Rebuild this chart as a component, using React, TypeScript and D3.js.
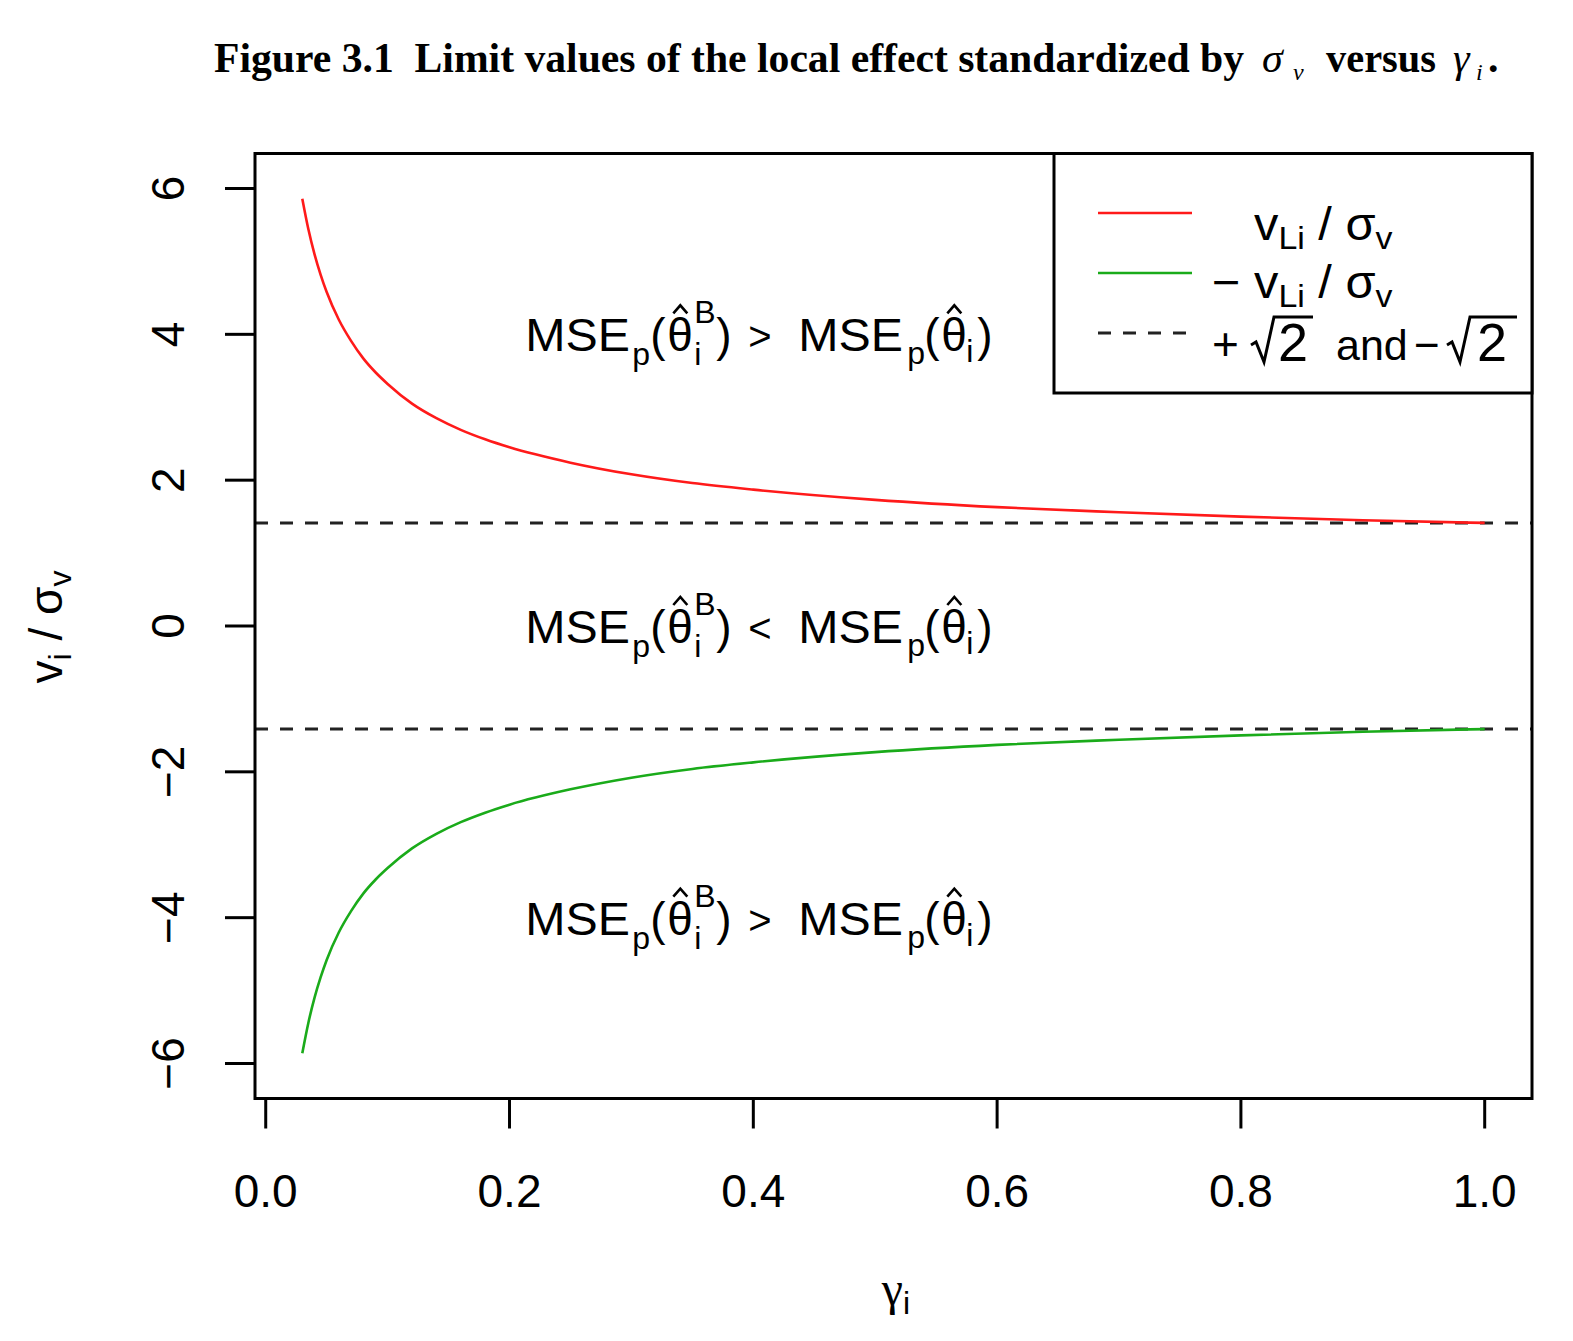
import React from "react";
import * as d3 from "d3";

const gammaValues = [0.03, 0.035, 0.04, 0.045, 0.05, 0.06, 0.07, 0.08, 0.09, 0.1, 0.12, 0.14, 0.16, 0.18, 0.2, 0.25, 0.3, 0.35, 0.4, 0.5, 0.6, 0.7, 0.8, 0.9, 1.0];
const upperValues = [5.86, 5.44, 5.10, 4.82, 4.58, 4.20, 3.91, 3.67, 3.48, 3.32, 3.05, 2.85, 2.69, 2.56, 2.45, 2.24, 2.08, 1.96, 1.87, 1.73, 1.63, 1.56, 1.50, 1.45, 1.414];
const lowerValues = [-5.86, -5.44, -5.10, -4.82, -4.58, -4.20, -3.91, -3.67, -3.48, -3.32, -3.05, -2.85, -2.69, -2.56, -2.45, -2.24, -2.08, -1.96, -1.87, -1.73, -1.63, -1.56, -1.50, -1.45, -1.414];
const thresholdValues = [1.414, -1.414];
const xTicks = [0, 0.2, 0.4, 0.6, 0.8, 1.0];
const xTickLabels = ["0.0", "0.2", "0.4", "0.6", "0.8", "1.0"];
const yTicks = [-6, -4, -2, 0, 2, 4, 6];
const yTickLabels = ["\u22126", "\u22124", "\u22122", "0", "2", "4", "6"];
const regionLabels = [
  { y: 4, rel: ">" },
  { y: 0, rel: "<" },
  { y: -4, rel: ">" },
];

const W = 1573;
const H = 1341;
const left = 255;
const right = 1532;
const top = 153.5;
const bottom = 1098.5;

const RED = "#ff1a1a";
const GREEN = "#1aab1a";
const SANS = "'Liberation Sans', Arial, Helvetica, sans-serif";
const SERIF = "'Liberation Serif', 'Times New Roman', serif";

function Piece({ x, y, s, size, sx = 1, family = SANS, extra = {} }: any) {
  return (
    <text
      transform={`translate(${x},${y}) scale(${sx},1)`}
      fontFamily={family}
      fontSize={size}
      fill="#000"
      style={{ whiteSpace: "pre" }}
      {...extra}
    >
      {s}
    </text>
  );
}

function Hat({ cx, by }: { cx: number; by: number }) {
  return (
    <polyline
      points={`${cx - 7},${by - 38} ${cx},${by - 46} ${cx + 7},${by - 38}`}
      fill="none"
      stroke="#000"
      strokeWidth={2.6}
    />
  );
}

function MseLabel({ x0, by, rel }: { x0: number; by: number; rel: string }) {
  const F = 46;
  const S = 32;
  const sx = 1.05;
  return (
    <g>
      <Piece x={x0 + 0} y={by} s="MSE" size={F} sx={sx} />
      <Piece x={x0 + 107} y={by + 14} s="p" size={S} />
      <Piece x={x0 + 125} y={by} s="(" size={F} />
      <Piece x={x0 + 142} y={by} s={"\u03b8"} size={F} />
      <Hat cx={x0 + 155} by={by} />
      <Piece x={x0 + 169} y={by + 14} s="i" size={S} />
      <Piece x={x0 + 169} y={by - 28} s="B" size={S} />
      <Piece x={x0 + 191} y={by} s=")" size={F} />
      <Piece x={x0 + 223} y={by - 1} s={rel} size={40} />
      <Piece x={x0 + 273} y={by} s="MSE" size={F} sx={sx} />
      <Piece x={x0 + 382} y={by + 13} s="p" size={S} />
      <Piece x={x0 + 399} y={by} s="(" size={F} />
      <Piece x={x0 + 416} y={by} s={"\u03b8"} size={F} />
      <Hat cx={x0 + 429} by={by} />
      <Piece x={x0 + 441} y={by + 11} s="i" size={S} />
      <Piece x={x0 + 452} y={by} s=")" size={F} />
    </g>
  );
}

function SqrtTwo({ x0, by, w = 62, tx = 27 }: { x0: number; by: number; w?: number; tx?: number }) {
  return (
    <g>
      <path
        d={`M${x0},${by - 16} L${x0 + 5},${by - 19} L${x0 + 13},${by + 1} L${x0 + 23},${by - 44} L${x0 + w},${by - 44}`}
        fill="none"
        stroke="#000"
        strokeWidth={3}
        strokeLinejoin="miter"
      />
      <Piece x={x0 + tx} y={by} s="2" size={54} />
    </g>
  );
}

export default function App() {
  const x = d3.scaleLinear().domain([-0.0088, 1.0388]).range([left, right]);
  const y = d3.scaleLinear().domain([-6.48, 6.48]).range([bottom, top]);
  const line = d3
    .line<[number, number]>()
    .x((d) => x(d[0]))
    .y((d) => y(d[1]))
    .curve(d3.curveMonotoneX);
  const upper = line(gammaValues.map((g, i) => [g, upperValues[i]] as [number, number])) || "";
  const lower = line(gammaValues.map((g, i) => [g, lowerValues[i]] as [number, number])) || "";

  const fs = 46;
  const sfs = 32;

  const legX0 = 1054;
  const legY1 = 393;

  return (
    <svg
      width={W}
      height={H}
      style={{ position: "absolute", left: 0, top: 0, background: "#fff" }}
    >
      <rect x={0} y={0} width={W} height={H} fill="#fff" />
      {/* Title */}
      <text x={214} y={72} fontFamily={SERIF} fontSize={42} fontWeight="bold" fill="#000" textLength={1030} lengthAdjust="spacingAndGlyphs" style={{ whiteSpace: "pre" }}>
        {"Figure 3.1  Limit values of the local effect standardized by"}
      </text>
      <text x={1262} y={72} fontFamily={SERIF} fontSize={42} fontStyle="italic" fill="#000">{"\u03c3"}</text>
      <text x={1293} y={80} fontFamily={SERIF} fontSize={24} fontStyle="italic" fill="#000">{"\u03bd"}</text>
      <text x={1326} y={72} fontFamily={SERIF} fontSize={42} fontWeight="bold" fill="#000" textLength={110} lengthAdjust="spacingAndGlyphs">versus</text>
      <text x={1453} y={72} fontFamily={SERIF} fontSize={42} fontStyle="italic" fill="#000">{"\u03b3"}</text>
      <text x={1476} y={80} fontFamily={SERIF} fontSize={24} fontStyle="italic" fill="#000">i</text>
      <text x={1488} y={72} fontFamily={SERIF} fontSize={42} fontWeight="bold" fill="#000">.</text>

      {/* threshold dashed lines */}
      {thresholdValues.map((v, i) => (
        <line key={i} x1={left} x2={right} y1={y(v)} y2={y(v)} stroke="#222" strokeWidth={3} strokeDasharray="13 12" />
      ))}

      {/* curves */}
      <path d={upper} fill="none" stroke={RED} strokeWidth={2.6} />
      <path d={lower} fill="none" stroke={GREEN} strokeWidth={2.6} />

      {/* plot box */}
      <rect x={left} y={top} width={right - left} height={bottom - top} fill="none" stroke="#000" strokeWidth={3} />

      {/* x ticks */}
      {xTicks.map((t, i) => (
        <g key={i}>
          <line x1={x(t)} x2={x(t)} y1={bottom} y2={bottom + 30} stroke="#000" strokeWidth={3} />
          <text x={x(t)} y={1207} textAnchor="middle" fontFamily={SANS} fontSize={fs} fill="#000">
            {xTickLabels[i]}
          </text>
        </g>
      ))}

      {/* y ticks */}
      {yTicks.map((t, i) => (
        <g key={i}>
          <line x1={left - 30} x2={left} y1={y(t)} y2={y(t)} stroke="#000" strokeWidth={3} />
          <text
            transform={`translate(184,${y(t)}) rotate(-90)`}
            textAnchor="middle"
            fontFamily={SANS}
            fontSize={fs}
            fill="#000"
          >
            {yTickLabels[i]}
          </text>
        </g>
      ))}

      {/* x label */}
      <text x={896} y={1305} textAnchor="middle" fontFamily={SERIF} fontSize={48} fill="#000">
        <tspan>{"\u03b3"}</tspan>
        <tspan fontFamily={SANS} fontSize={32} dy={9}>i</tspan>
      </text>

      {/* y label */}
      <text transform={`translate(62,627) rotate(-90)`} textAnchor="middle" fontFamily={SANS} fontSize={fs} fill="#000" style={{ whiteSpace: "pre" }}>
        <tspan>v</tspan>
        <tspan fontSize={sfs} dy={9}>i</tspan>
        <tspan dy={-9}>{" / \u03c3"}</tspan>
        <tspan fontSize={sfs} dy={9}>v</tspan>
      </text>

      {/* region labels */}
      {regionLabels.map((r, i) => (
        <MseLabel key={i} x0={x(0.4) - 228} by={y(r.y) + 17} rel={r.rel} />
      ))}

      {/* legend */}
      <rect x={legX0} y={top} width={right - legX0} height={legY1 - top} fill="#fff" stroke="#000" strokeWidth={3} />
      <line x1={1098} x2={1192} y1={213} y2={213} stroke={RED} strokeWidth={2.6} />
      <line x1={1098} x2={1192} y1={273} y2={273} stroke={GREEN} strokeWidth={2.6} />
      <line x1={1098} x2={1192} y1={333} y2={333} stroke="#222" strokeWidth={3} strokeDasharray="13 12" />
      <text transform="translate(1254,240) scale(1.06,1)" fontFamily={SANS} fontSize={fs} fill="#000" style={{ whiteSpace: "pre" }}>
        <tspan>v</tspan>
        <tspan fontSize={sfs} dy={9}>Li</tspan>
        <tspan dy={-9}>{" / \u03c3"}</tspan>
        <tspan fontSize={sfs} dy={9}>v</tspan>
      </text>
      <text transform="translate(1212,298) scale(1.06,1)" fontFamily={SANS} fontSize={fs} fill="#000" style={{ whiteSpace: "pre" }}>
        <tspan>{"\u2212 v"}</tspan>
        <tspan fontSize={sfs} dy={9}>Li</tspan>
        <tspan dy={-9}>{" / \u03c3"}</tspan>
        <tspan fontSize={sfs} dy={9}>v</tspan>
      </text>
      <Piece x={1212} y={360} s="+" size={fs} />
      <SqrtTwo x0={1251} by={361} />
      <Piece x={1336} y={360} s="and" size={43} />
      <Piece x={1414} y={360} s={"\u2212"} size={44} />
      <SqrtTwo x0={1447} by={361} w={70} tx={30} />
    </svg>
  );
}
